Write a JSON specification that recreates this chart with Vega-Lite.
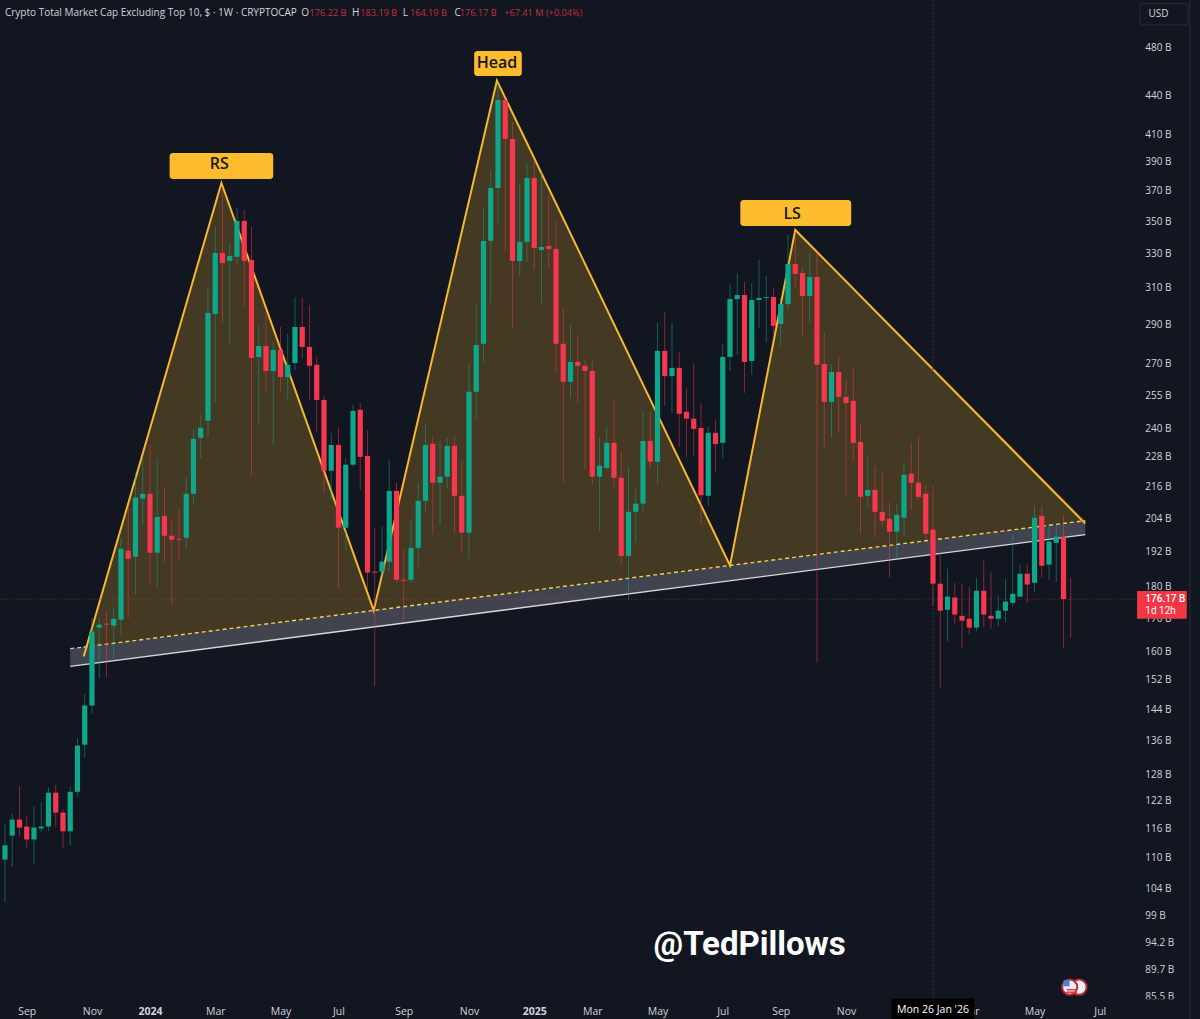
{
  "$schema": "https://vega.github.io/schema/vega-lite/v6.json",
  "width": 1190,
  "height": 1019,
  "autosize": {"type": "none"},
  "padding": {"left": 0, "right": 10, "top": 0, "bottom": 0},
  "background": "#121621",
  "datasets": {
    "candles": [
      {"t":"2023-08-14","o":109.7,"h":117.2,"l":101.5,"c":112.6},
      {"t":"2023-08-21","o":114.6,"h":119.3,"l":108.3,"c":118.0},
      {"t":"2023-08-28","o":118.0,"h":125.3,"l":114.4,"c":116.3},
      {"t":"2023-09-04","o":116.5,"h":118.9,"l":112.1,"c":113.8},
      {"t":"2023-09-11","o":113.8,"h":120.9,"l":108.7,"c":116.3},
      {"t":"2023-09-18","o":116.1,"h":121.9,"l":115.3,"c":116.5},
      {"t":"2023-09-25","o":116.5,"h":125.1,"l":115.5,"c":123.9},
      {"t":"2023-10-02","o":123.9,"h":125.7,"l":116.5,"c":119.5},
      {"t":"2023-10-09","o":119.5,"h":120.2,"l":111.9,"c":115.5},
      {"t":"2023-10-16","o":115.5,"h":125.3,"l":112.6,"c":124.1},
      {"t":"2023-10-23","o":124.1,"h":136.8,"l":122.9,"c":135.0},
      {"t":"2023-10-30","o":135.2,"h":148.4,"l":132.1,"c":145.2},
      {"t":"2023-11-06","o":145.2,"h":170.3,"l":143.1,"c":166.1},
      {"t":"2023-11-13","o":167.3,"h":170.3,"l":152.5,"c":168.2},
      {"t":"2023-11-20","o":168.5,"h":172.5,"l":152.8,"c":168.2},
      {"t":"2023-11-27","o":167.9,"h":173.8,"l":157.8,"c":170.0},
      {"t":"2023-12-04","o":169.7,"h":197.0,"l":164.9,"c":193.1},
      {"t":"2023-12-11","o":192.4,"h":208.4,"l":170.3,"c":189.6},
      {"t":"2023-12-18","o":190.3,"h":221.7,"l":177.9,"c":211.9},
      {"t":"2023-12-25","o":211.5,"h":227.8,"l":201.7,"c":213.4},
      {"t":"2024-01-01","o":213.4,"h":233.2,"l":180.9,"c":191.7},
      {"t":"2024-01-08","o":191.7,"h":227.8,"l":180.2,"c":204.6},
      {"t":"2024-01-15","o":205.0,"h":215.7,"l":188.3,"c":197.7},
      {"t":"2024-01-22","o":197.7,"h":203.5,"l":174.1,"c":196.3},
      {"t":"2024-01-29","o":196.6,"h":207.7,"l":188.9,"c":196.3},
      {"t":"2024-02-05","o":197.0,"h":219.7,"l":193.1,"c":213.4},
      {"t":"2024-02-12","o":213.4,"h":239.7,"l":209.2,"c":235.8},
      {"t":"2024-02-19","o":236.3,"h":246.4,"l":227.8,"c":240.6},
      {"t":"2024-02-26","o":243.7,"h":310.2,"l":236.7,"c":296.5},
      {"t":"2024-03-04","o":295.9,"h":347.3,"l":252.2,"c":330.7},
      {"t":"2024-03-11","o":330.7,"h":372.8,"l":291.7,"c":324.7},
      {"t":"2024-03-18","o":325.9,"h":336.7,"l":279.7,"c":328.9},
      {"t":"2024-03-25","o":328.3,"h":358.8,"l":324.1,"c":350.5},
      {"t":"2024-04-01","o":350.5,"h":357.5,"l":300.3,"c":325.9},
      {"t":"2024-04-08","o":326.5,"h":346.7,"l":220.5,"c":273.2},
      {"t":"2024-04-15","o":273.7,"h":289.6,"l":242.3,"c":279.2},
      {"t":"2024-04-22","o":279.2,"h":296.5,"l":256.9,"c":266.8},
      {"t":"2024-04-29","o":266.8,"h":281.3,"l":233.2,"c":277.2},
      {"t":"2024-05-06","o":277.2,"h":289.0,"l":257.3,"c":263.9},
      {"t":"2024-05-13","o":263.9,"h":285.4,"l":253.1,"c":269.8},
      {"t":"2024-05-20","o":270.7,"h":305.2,"l":267.3,"c":289.0},
      {"t":"2024-05-27","o":289.0,"h":304.7,"l":272.7,"c":278.7},
      {"t":"2024-06-03","o":278.7,"h":300.8,"l":253.1,"c":269.3},
      {"t":"2024-06-10","o":269.8,"h":273.7,"l":238.8,"c":253.1},
      {"t":"2024-06-17","o":253.1,"h":255.0,"l":213.8,"c":222.5},
      {"t":"2024-06-24","o":222.5,"h":238.4,"l":211.1,"c":233.2},
      {"t":"2024-07-01","o":233.2,"h":240.6,"l":179.9,"c":200.6},
      {"t":"2024-07-08","o":200.6,"h":227.8,"l":192.4,"c":225.0},
      {"t":"2024-07-15","o":225.0,"h":250.9,"l":224.1,"c":248.1},
      {"t":"2024-07-22","o":248.6,"h":251.7,"l":214.9,"c":228.2},
      {"t":"2024-07-29","o":228.6,"h":239.3,"l":179.2,"c":184.9},
      {"t":"2024-08-05","o":185.2,"h":200.6,"l":150.3,"c":184.9},
      {"t":"2024-08-12","o":185.2,"h":201.0,"l":183.5,"c":188.6},
      {"t":"2024-08-19","o":188.6,"h":227.0,"l":185.2,"c":214.5},
      {"t":"2024-08-26","o":214.5,"h":217.7,"l":181.5,"c":182.5},
      {"t":"2024-09-02","o":182.5,"h":193.1,"l":169.1,"c":182.2},
      {"t":"2024-09-09","o":182.5,"h":203.5,"l":181.5,"c":193.4},
      {"t":"2024-09-16","o":193.4,"h":217.7,"l":186.9,"c":210.7},
      {"t":"2024-09-23","o":210.7,"h":242.3,"l":206.6,"c":233.2},
      {"t":"2024-09-30","o":233.7,"h":236.7,"l":198.1,"c":217.7},
      {"t":"2024-10-07","o":217.7,"h":235.0,"l":201.7,"c":220.1},
      {"t":"2024-10-14","o":220.1,"h":236.3,"l":215.7,"c":232.8},
      {"t":"2024-10-21","o":232.8,"h":237.0,"l":198.8,"c":212.6},
      {"t":"2024-10-28","o":212.6,"h":226.2,"l":191.7,"c":198.8},
      {"t":"2024-11-04","o":198.8,"h":269.8,"l":189.6,"c":256.9},
      {"t":"2024-11-11","o":256.9,"h":300.8,"l":244.1,"c":279.7},
      {"t":"2024-11-18","o":280.3,"h":358.8,"l":270.7,"c":338.0},
      {"t":"2024-11-25","o":338.0,"h":384.5,"l":301.9,"c":372.1},
      {"t":"2024-12-02","o":372.1,"h":451.5,"l":349.2,"c":436.7},
      {"t":"2024-12-09","o":436.7,"h":438.3,"l":332.5,"c":406.8},
      {"t":"2024-12-16","o":406.8,"h":419.6,"l":289.0,"c":325.9},
      {"t":"2024-12-23","o":325.9,"h":375.6,"l":316.6,"c":337.4},
      {"t":"2024-12-30","o":337.4,"h":389.5,"l":325.3,"c":379.0},
      {"t":"2025-01-06","o":379.0,"h":391.6,"l":320.6,"c":333.7},
      {"t":"2025-01-13","o":332.5,"h":383.1,"l":301.9,"c":334.3},
      {"t":"2025-01-20","o":334.9,"h":367.4,"l":321.8,"c":333.1},
      {"t":"2025-01-27","o":333.1,"h":349.8,"l":266.3,"c":280.3},
      {"t":"2025-02-03","o":280.3,"h":299.2,"l":217.7,"c":261.6},
      {"t":"2025-02-10","o":261.6,"h":290.1,"l":254.0,"c":271.2},
      {"t":"2025-02-17","o":271.2,"h":284.4,"l":251.7,"c":269.3},
      {"t":"2025-02-24","o":269.3,"h":272.7,"l":222.9,"c":266.8},
      {"t":"2025-03-03","o":266.8,"h":271.7,"l":216.9,"c":220.1},
      {"t":"2025-03-10","o":220.1,"h":236.3,"l":199.5,"c":224.6},
      {"t":"2025-03-17","o":223.7,"h":241.5,"l":222.9,"c":234.1},
      {"t":"2025-03-24","o":234.1,"h":253.1,"l":215.7,"c":219.7},
      {"t":"2025-03-31","o":219.7,"h":230.3,"l":187.2,"c":190.6},
      {"t":"2025-04-07","o":190.6,"h":223.7,"l":176.0,"c":206.5},
      {"t":"2025-04-14","o":206.5,"h":215.7,"l":195.2,"c":209.6},
      {"t":"2025-04-21","o":209.6,"h":248.1,"l":206.5,"c":234.9},
      {"t":"2025-04-28","o":234.9,"h":248.1,"l":222.9,"c":226.2},
      {"t":"2025-05-05","o":226.2,"h":291.2,"l":217.3,"c":276.7},
      {"t":"2025-05-12","o":276.7,"h":297.1,"l":250.4,"c":264.3},
      {"t":"2025-05-19","o":264.3,"h":291.2,"l":247.2,"c":268.3},
      {"t":"2025-05-26","o":268.3,"h":276.2,"l":232.4,"c":246.8},
      {"t":"2025-06-02","o":247.7,"h":258.3,"l":228.2,"c":244.6},
      {"t":"2025-06-09","o":244.6,"h":270.7,"l":228.6,"c":240.1},
      {"t":"2025-06-16","o":240.5,"h":251.7,"l":202.0,"c":212.8},
      {"t":"2025-06-23","o":212.6,"h":241.0,"l":208.8,"c":238.4},
      {"t":"2025-06-30","o":238.4,"h":244.1,"l":222.1,"c":233.6},
      {"t":"2025-07-07","o":234.1,"h":280.3,"l":227.8,"c":273.7},
      {"t":"2025-07-14","o":273.7,"h":313.0,"l":266.8,"c":304.1},
      {"t":"2025-07-21","o":304.1,"h":318.8,"l":274.7,"c":306.3},
      {"t":"2025-07-28","o":306.3,"h":313.7,"l":256.4,"c":271.2},
      {"t":"2025-08-04","o":271.7,"h":313.0,"l":264.9,"c":303.6},
      {"t":"2025-08-11","o":303.6,"h":326.5,"l":288.5,"c":304.7},
      {"t":"2025-08-18","o":304.7,"h":317.1,"l":280.8,"c":305.2},
      {"t":"2025-08-25","o":305.2,"h":310.2,"l":284.9,"c":289.6},
      {"t":"2025-09-01","o":290.6,"h":304.7,"l":279.2,"c":301.4},
      {"t":"2025-09-08","o":301.4,"h":341.7,"l":298.1,"c":324.1},
      {"t":"2025-09-15","o":324.1,"h":343.5,"l":310.8,"c":318.3},
      {"t":"2025-09-22","o":318.8,"h":322.4,"l":283.9,"c":305.8},
      {"t":"2025-09-29","o":305.8,"h":330.7,"l":291.1,"c":316.5},
      {"t":"2025-10-06","o":316.5,"h":331.3,"l":157.0,"c":269.8},
      {"t":"2025-10-13","o":270.2,"h":286.0,"l":232.4,"c":252.2},
      {"t":"2025-10-20","o":252.2,"h":269.8,"l":236.3,"c":266.3},
      {"t":"2025-10-27","o":266.3,"h":273.7,"l":238.8,"c":254.5},
      {"t":"2025-11-03","o":254.5,"h":263.4,"l":213.0,"c":251.7},
      {"t":"2025-11-10","o":252.7,"h":268.3,"l":226.2,"c":234.1},
      {"t":"2025-11-17","o":234.5,"h":242.3,"l":198.4,"c":212.2},
      {"t":"2025-11-24","o":212.6,"h":228.2,"l":208.0,"c":214.9},
      {"t":"2025-12-01","o":214.9,"h":224.6,"l":197.0,"c":206.5},
      {"t":"2025-12-08","o":206.5,"h":221.7,"l":201.0,"c":203.1},
      {"t":"2025-12-15","o":203.9,"h":210.0,"l":183.2,"c":199.2},
      {"t":"2025-12-22","o":199.2,"h":209.2,"l":190.3,"c":205.4},
      {"t":"2025-12-29","o":204.3,"h":226.2,"l":197.4,"c":220.9},
      {"t":"2026-01-05","o":221.3,"h":234.1,"l":207.3,"c":217.7},
      {"t":"2026-01-12","o":217.7,"h":236.7,"l":211.1,"c":212.2},
      {"t":"2026-01-19","o":213.4,"h":216.9,"l":196.3,"c":198.4},
      {"t":"2026-01-26","o":199.9,"h":216.5,"l":174.1,"c":181.2},
      {"t":"2026-02-02","o":181.2,"h":191.7,"l":150.0,"c":172.5},
      {"t":"2026-02-09","o":172.8,"h":186.2,"l":163.1,"c":177.0},
      {"t":"2026-02-16","o":176.7,"h":181.5,"l":168.5,"c":171.3},
      {"t":"2026-02-23","o":170.9,"h":181.2,"l":161.3,"c":169.4},
      {"t":"2026-03-02","o":170.0,"h":180.2,"l":165.2,"c":167.3},
      {"t":"2026-03-09","o":167.3,"h":183.2,"l":166.1,"c":178.9},
      {"t":"2026-03-16","o":178.9,"h":188.9,"l":167.6,"c":171.3},
      {"t":"2026-03-23","o":170.9,"h":184.9,"l":167.0,"c":170.0},
      {"t":"2026-03-30","o":170.0,"h":177.3,"l":167.6,"c":172.5},
      {"t":"2026-04-06","o":172.5,"h":182.8,"l":168.8,"c":175.4},
      {"t":"2026-04-13","o":175.0,"h":198.1,"l":173.8,"c":177.9},
      {"t":"2026-04-20","o":177.0,"h":187.6,"l":176.7,"c":184.5},
      {"t":"2026-04-27","o":184.5,"h":187.6,"l":175.0,"c":180.9},
      {"t":"2026-05-04","o":181.5,"h":208.8,"l":178.6,"c":204.3},
      {"t":"2026-05-11","o":205.0,"h":208.8,"l":183.2,"c":187.2},
      {"t":"2026-05-18","o":187.6,"h":201.7,"l":182.5,"c":195.6},
      {"t":"2026-05-25","o":195.2,"h":201.7,"l":181.8,"c":197.4},
      {"t":"2026-06-01","o":197.4,"h":205.0,"l":161.3,"c":176.2},
      {"t":"2026-06-08","o":176.22,"h":183.19,"l":164.19,"c":176.17}
    ]
  },
  "encoding": {
    "x": {
      "field": "t",
      "type": "temporal",
      "scale": {
        "type": "utc",
        "domain": [
          {"year": 2023, "month": 8, "date": 9, "hours": 5, "utc": true},
          {"year": 2026, "month": 10, "date": 1, "hours": 3, "utc": true}
        ]
      },
      "axis": {
        "title": null,
        "orient": "bottom",
        "domain": false,
        "ticks": false,
        "grid": false,
        "labelPadding": -13,
        "labelFont": "Open Sans",
        "labelFontSize": 10.5,
        "labelColor": "#d1d4dc",
        "labelOverlap": false,
        "labelFlush": false,
        "labelFontWeight": {"condition": {"test": "utcmonth(datum.value) == 0", "value": 700}, "value": 400},
        "values": [
          {"year": 2023, "month": 9, "date": 4, "utc": true},
          {"year": 2023, "month": 11, "date": 6, "utc": true},
          {"year": 2024, "month": 1, "date": 1, "utc": true},
          {"year": 2024, "month": 3, "date": 4, "utc": true},
          {"year": 2024, "month": 5, "date": 6, "utc": true},
          {"year": 2024, "month": 7, "date": 1, "utc": true},
          {"year": 2024, "month": 9, "date": 2, "utc": true},
          {"year": 2024, "month": 11, "date": 4, "utc": true},
          {"year": 2025, "month": 1, "date": 6, "utc": true},
          {"year": 2025, "month": 3, "date": 3, "utc": true},
          {"year": 2025, "month": 5, "date": 5, "utc": true},
          {"year": 2025, "month": 7, "date": 7, "utc": true},
          {"year": 2025, "month": 9, "date": 1, "utc": true},
          {"year": 2025, "month": 11, "date": 3, "utc": true},
          {"year": 2026, "month": 3, "date": 2, "utc": true},
          {"year": 2026, "month": 5, "date": 4, "utc": true},
          {"year": 2026, "month": 7, "date": 6, "utc": true}
        ],
        "labelExpr": "utcmonth(datum.value) == 0 ? utcFormat(datum.value, '%Y') : utcFormat(datum.value, '%b')"
      }
    },
    "y": {
      "field": "p",
      "type": "quantitative",
      "scale": {"type": "log", "domain": [82.1, 523.8], "nice": false, "zero": false},
      "axis": null
    }
  },
  "layer": [
    {
      "data": {"values": [
        {"t": "2023-10-16", "p": 161.0, "b": 155.9},
        {"t": "2026-06-22", "p": 203.2, "b": 198.1}
      ]},
      "mark": {"type": "area", "color": "#41434f"},
      "encoding": {"y2": {"field": "b"}}
    },
    {
      "data": {"values": [
        {"name": "RS", "t": "2023-10-31", "p": 161.6, "b": 161.6},
        {"name": "RS", "t": "2024-03-10", "p": 375.6, "b": 166.7},
        {"name": "RS", "t": "2024-08-04", "p": 172.6, "b": 172.6},
        {"name": "Head", "t": "2024-08-04", "p": 172.6, "b": 172.6},
        {"name": "Head", "t": "2024-12-01", "p": 452.4, "b": 177.6},
        {"name": "Head", "t": "2025-07-14", "p": 187.3, "b": 187.3},
        {"name": "LS", "t": "2025-07-14", "p": 187.3, "b": 187.3},
        {"name": "LS", "t": "2025-09-15", "p": 344.8, "b": 190.1},
        {"name": "LS", "t": "2026-06-22", "p": 203.2, "b": 203.2}
      ]},
      "mark": {"type": "area", "color": "#f5b82e", "opacity": 0.22},
      "encoding": {"y2": {"field": "b"}, "detail": {"field": "name"}}
    },
    {
      "data": {"values": [
        {"t": "2023-10-16", "p": 155.9},
        {"t": "2026-06-22", "p": 198.1}
      ]},
      "mark": {"type": "line", "color": "#d7d8de", "strokeWidth": 1.4}
    },
    {
      "data": {"values": [
        {"t": "2023-10-16", "p": 161.0},
        {"t": "2023-10-29", "p": 161.5}
      ]},
      "mark": {"type": "line", "color": "#c9cad2", "strokeWidth": 1.2, "strokeDash": [4, 3]}
    },
    {
      "data": {"values": [
        {"t": "2023-10-29", "p": 161.5},
        {"t": "2026-06-22", "p": 203.2}
      ]},
      "mark": {"type": "line", "color": "#f0cf5a", "strokeWidth": 1.4, "strokeDash": [4, 3]}
    },
    {
      "data": {"values": [
        {"t": "2023-10-29", "p": 158.7},
        {"t": "2024-03-10", "p": 375.6},
        {"t": "2024-08-04", "p": 172.6},
        {"t": "2024-12-01", "p": 452.4},
        {"t": "2025-07-14", "p": 187.3},
        {"t": "2025-09-15", "p": 344.8},
        {"t": "2026-06-22", "p": 202.1}
      ]},
      "mark": {"type": "line", "color": "#f5b82e", "strokeWidth": 2}
    },
    {
      "data": {"values": [{"p": 176.17}]},
      "mark": {"type": "rule", "color": "#f23645", "opacity": 0.45, "strokeWidth": 1, "strokeDash": [1, 2]},
      "encoding": {"x": null}
    },
    {
      "data": {"values": [{"t": "2026-01-26"}]},
      "mark": {"type": "rule", "color": "#2e3340", "strokeWidth": 1, "strokeDash": [2, 2]},
      "encoding": {"y": null}
    },
    {
      "data": {"values": [{"t": "2026-10-01"}]},
      "mark": {"type": "rule", "color": "#2a2e39", "strokeWidth": 1},
      "encoding": {"y": null}
    },
    {
      "data": {"name": "candles"},
      "mark": {"type": "rule", "strokeWidth": 1, "opacity": 0.5},
      "encoding": {
        "y": {"field": "l", "type": "quantitative", "axis": null},
        "y2": {"field": "h"},
        "color": {"condition": {"test": "datum.c >= datum.o", "value": "#12a68b"}, "value": "#f7374d"}
      }
    },
    {
      "data": {"name": "candles"},
      "mark": {"type": "rule", "strokeWidth": 5.2},
      "encoding": {
        "y": {"field": "o", "type": "quantitative", "axis": null},
        "y2": {"field": "c"},
        "color": {"condition": {"test": "datum.c >= datum.o", "value": "#0ea78b"}, "value": "#f7374d"}
      }
    },
    {
      "data": {"values": [
        {"t": "2024-01-20", "t2": "2024-04-29", "p": 396.6, "b": 378.3},
        {"t": "2024-11-09", "t2": "2024-12-25", "p": 477.4, "b": 456.2},
        {"t": "2025-07-24", "t2": "2025-11-08", "p": 364.1, "b": 347.3}
      ]},
      "mark": {"type": "rect", "color": "#fdbb2e", "cornerRadius": 3},
      "encoding": {"x2": {"field": "t2"}, "y2": {"field": "b"}}
    },
    {
      "data": {"values": [
        {"s": "RS", "t": "2024-03-08", "p": 388.8},
        {"s": "Head", "t": "2024-12-01", "p": 467.1},
        {"s": "LS", "t": "2025-09-12", "p": 354.9}
      ]},
      "mark": {"type": "text", "color": "#131722", "font": "Open Sans", "fontSize": 16, "fontWeight": 600, "align": "center", "baseline": "middle"},
      "encoding": {"text": {"field": "s"}}
    },
    {
      "data": {"values": [
        {"s": "Crypto Total Market Cap Excluding Top 10, $ · 1W · CRYPTOCAP", "t": "2023-08-14", "p": 511.6},
        {"s": "O", "t": "2024-05-26", "p": 511.6},
        {"s": "H", "t": "2024-07-14", "p": 511.6},
        {"s": "L", "t": "2024-09-01", "p": 511.6},
        {"s": "C", "t": "2024-10-21", "p": 511.6}
      ]},
      "mark": {"type": "text", "color": "#d1d4dc", "font": "Open Sans", "fontSize": 10, "fontWeight": 500, "align": "left", "baseline": "middle"},
      "encoding": {"text": {"field": "s"}}
    },
    {
      "data": {"values": [
        {"s": "176.22 B", "t": "2024-06-03", "p": 511.6},
        {"s": "183.19 B", "t": "2024-07-22", "p": 511.6},
        {"s": "164.19 B", "t": "2024-09-08", "p": 511.6},
        {"s": "176.17 B", "t": "2024-10-26", "p": 511.6},
        {"s": "+67.41 M (+0.04%)", "t": "2024-12-08", "p": 511.6}
      ]},
      "mark": {"type": "text", "color": "#c0303f", "font": "Open Sans", "fontSize": 9.2, "align": "left", "baseline": "middle"},
      "encoding": {"text": {"field": "s"}}
    },
    {
      "data": {"values": [{"s": "@TedPillows", "t": "2025-08-02", "p": 93.9}]},
      "mark": {"type": "text", "color": "#ffffff", "font": "Roboto", "fontSize": 33, "fontWeight": 700, "align": "center", "baseline": "middle"},
      "encoding": {"text": {"field": "s"}}
    },
    {
      "data": {"values": [
        {"s": "480 B", "t": "2026-08-19", "p": 480},
        {"s": "440 B", "t": "2026-08-19", "p": 440},
        {"s": "410 B", "t": "2026-08-19", "p": 410},
        {"s": "390 B", "t": "2026-08-19", "p": 390},
        {"s": "370 B", "t": "2026-08-19", "p": 370},
        {"s": "350 B", "t": "2026-08-19", "p": 350},
        {"s": "330 B", "t": "2026-08-19", "p": 330},
        {"s": "310 B", "t": "2026-08-19", "p": 310},
        {"s": "290 B", "t": "2026-08-19", "p": 290},
        {"s": "270 B", "t": "2026-08-19", "p": 270},
        {"s": "255 B", "t": "2026-08-19", "p": 255},
        {"s": "240 B", "t": "2026-08-19", "p": 240},
        {"s": "228 B", "t": "2026-08-19", "p": 228},
        {"s": "216 B", "t": "2026-08-19", "p": 216},
        {"s": "204 B", "t": "2026-08-19", "p": 204},
        {"s": "192 B", "t": "2026-08-19", "p": 192},
        {"s": "180 B", "t": "2026-08-19", "p": 180},
        {"s": "170 B", "t": "2026-08-19", "p": 170},
        {"s": "160 B", "t": "2026-08-19", "p": 160},
        {"s": "152 B", "t": "2026-08-19", "p": 152},
        {"s": "144 B", "t": "2026-08-19", "p": 144},
        {"s": "136 B", "t": "2026-08-19", "p": 136},
        {"s": "128 B", "t": "2026-08-19", "p": 128},
        {"s": "122 B", "t": "2026-08-19", "p": 122},
        {"s": "116 B", "t": "2026-08-19", "p": 116},
        {"s": "110 B", "t": "2026-08-19", "p": 110},
        {"s": "104 B", "t": "2026-08-19", "p": 104},
        {"s": "99 B", "t": "2026-08-19", "p": 99},
        {"s": "94.2 B", "t": "2026-08-19", "p": 94.2},
        {"s": "89.7 B", "t": "2026-08-19", "p": 89.7},
        {"s": "85.5 B", "t": "2026-08-19", "p": 85.5}
      ]},
      "mark": {"type": "text", "color": "#d1d4dc", "font": "Open Sans", "fontSize": 10, "align": "left", "baseline": "middle"},
      "encoding": {"text": {"field": "s"}}
    },
    {
      "data": {"values": [{"t": "2026-08-14", "t2": "2026-09-29", "p": 520.5, "b": 500.5}]},
      "mark": {"type": "rect", "fill": "#121621", "stroke": "#2a2e39", "strokeWidth": 1, "cornerRadius": 3},
      "encoding": {"x2": {"field": "t2"}, "y2": {"field": "b"}}
    },
    {
      "data": {"values": [{"s": "USD", "t": "2026-08-22", "p": 510.7}]},
      "mark": {"type": "text", "color": "#d1d4dc", "font": "Open Sans", "fontSize": 10, "align": "left", "baseline": "middle"},
      "encoding": {"text": {"field": "s"}}
    },
    {
      "data": {"values": [{"t": "2026-08-04", "t2": "2026-09-30", "p": 85.1, "b": 82.1}]},
      "mark": {"type": "rect", "color": "#121621"},
      "encoding": {"x2": {"field": "t2"}, "y2": {"field": "b"}}
    },
    {
      "data": {"values": [{"t": "2026-08-11", "t2": "2026-09-28", "p": 178.8, "b": 170.0}]},
      "mark": {"type": "rect", "color": "#f23645"},
      "encoding": {"x2": {"field": "t2"}, "y2": {"field": "b"}}
    },
    {
      "data": {"values": [{"s": "176.17 B", "t": "2026-08-19", "p": 176.2}]},
      "mark": {"type": "text", "color": "#ffffff", "font": "Roboto", "fontSize": 10, "fontWeight": 500, "align": "left", "baseline": "middle"},
      "encoding": {"text": {"field": "s"}}
    },
    {
      "data": {"values": [{"s": "1d 12h", "t": "2026-08-19", "p": 172.5}]},
      "mark": {"type": "text", "color": "#ffffff", "font": "Roboto", "fontSize": 10, "align": "left", "baseline": "middle"},
      "encoding": {"text": {"field": "s"}}
    },
    {
      "data": {"values": [{"t": "2025-12-17", "t2": "2026-03-07", "p": 85.2, "b": 82.1}]},
      "mark": {"type": "rect", "color": "#000000"},
      "encoding": {"x2": {"field": "t2"}, "y2": {"field": "b"}}
    },
    {
      "data": {"values": [{"s": "Mon 26 Jan '26", "t": "2026-01-26", "p": 83.5}]},
      "mark": {"type": "text", "color": "#ffffff", "font": "Open Sans", "fontSize": 10.5, "align": "center", "baseline": "middle"},
      "encoding": {"text": {"field": "s"}}
    },
    {
      "data": {"values": [
        {"t": "2026-06-16", "p": 87.0},
        {"t": "2026-06-07", "p": 87.0}
      ]},
      "mark": {"type": "point", "shape": "circle", "filled": true, "fill": "#eceef2", "stroke": "#b82a3a", "strokeWidth": 2, "size": 230, "opacity": 1}
    },
    {
      "data": {"values": [
        {"t": "2026-06-04", "t2": "2026-06-14", "p": 86.6},
        {"t": "2026-06-04", "t2": "2026-06-14", "p": 86.2}
      ]},
      "mark": {"type": "rule", "color": "#e0384a", "strokeWidth": 1.5},
      "encoding": {"x2": {"field": "t2"}}
    },
    {
      "data": {"values": [{"t": "2026-06-04", "p": 87.6}]},
      "mark": {"type": "point", "shape": "square", "filled": true, "color": "#3f86e0", "size": 36, "opacity": 1}
    }
  ],
  "config": {"view": {"stroke": null}}
}
